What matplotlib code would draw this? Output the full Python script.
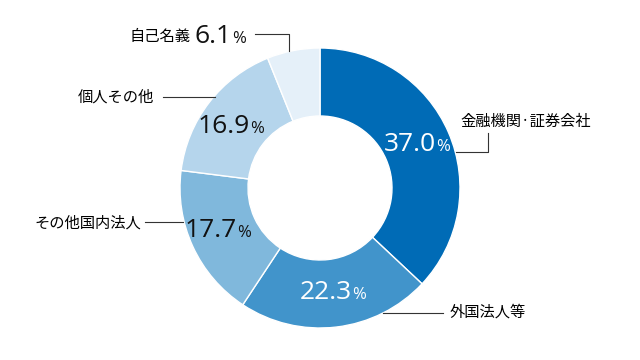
import matplotlib
matplotlib.use("Agg")
import matplotlib.pyplot as plt

plt.rcParams['font.family'] = ['Noto Sans CJK JP', 'DejaVu Sans']

# 所有者別分布 (%)
categories = ['金融機関·証券会社', '外国法人等', 'その他国内法人', '個人その他', '自己名義']
values = [37.0, 22.3, 17.7, 16.9, 6.1]
colors = ['#006bb6', '#4194cb', '#80b8dc', '#b5d5ec', '#e5f0f9']
value_colors = ['white', 'white', '#111111', '#111111', '#111111']

fig = plt.figure(figsize=(6.4, 3.6), dpi=100)
ax = fig.add_axes([0, 0, 1, 1])

cx, cy, r_out, r_in = 320, 188, 140, 72
# y軸を反転するので、見た目で上から時計回りになるよう向きを合わせる
ax.pie(values, colors=colors, startangle=-90, counterclock=True,
       center=(cx, cy), radius=r_out, frame=True,
       wedgeprops=dict(width=r_out - r_in, edgecolor='white', linewidth=1))
ax.set_xlim(0, 640)
ax.set_ylim(360, 0)
ax.set_aspect('equal')
ax.axis('off')

# 値ラベル (数字 + 小さい%)
value_pos = [(436, 151), (352, 299), (237, 237), (250, 133), (232, 43)]
for v, (x, y), c in zip(values, value_pos, value_colors):
    ax.text(x, y, f'{v:.1f}', ha='right', va='baseline', fontsize=19,
            color=c, family='Open Sans')
    ax.text(x, y, '%', ha='left', va='baseline', fontsize=12,
            color=c, family='Open Sans')

# カテゴリ名と引き出し線
lc = '#333333'
ax.text(460, 121, categories[0], ha='left', va='center', fontsize=11)
ax.plot([456, 488, 488], [152, 152, 133], color=lc, lw=0.8)

ax.text(450, 312, categories[1], ha='left', va='center', fontsize=11)
ax.plot([383, 443], [313, 313], color=lc, lw=0.8)

ax.text(141, 223, categories[2], ha='right', va='center', fontsize=11)
ax.plot([145, 183], [222, 222], color=lc, lw=0.8)

ax.text(154, 97, categories[3], ha='right', va='center', fontsize=11)
ax.plot([163, 215], [97, 97], color=lc, lw=0.8)

ax.text(191, 36, categories[4], ha='right', va='center', fontsize=11)
ax.plot([255, 289, 289], [34, 34, 51], color=lc, lw=0.8)

fig.savefig('out.png', dpi=100)
